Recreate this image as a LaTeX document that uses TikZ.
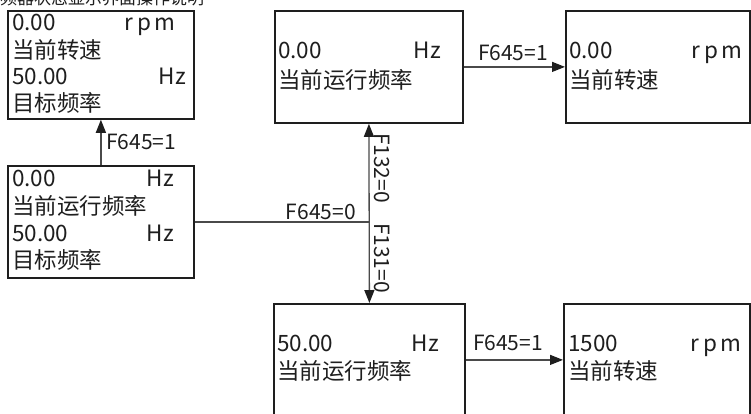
\documentclass[tikz,border=0pt]{standalone}
\usepackage{fontspec}
\setmainfont{Noto Sans CJK SC}
\newfontfamily\cjk{Noto Sans CJK SC}
\usetikzlibrary{arrows.meta}
\definecolor{ink}{HTML}{1E1E1E}
\definecolor{wire}{HTML}{4A4A4A}
\tikzset{
  panel/.style={draw=ink, line width=1.8pt, rectangle, inner sep=0pt, anchor=north west},
  txt/.style={font=\cjk\fontsize{22.5}{22.5}\selectfont, text=ink, inner sep=0pt},
  lt/.style={txt, anchor=mid west, yshift=-3pt},
  rt/.style={txt, anchor=mid east, yshift=-3pt},
  lbl/.style={font=\cjk\fontsize{21}{21}\selectfont, text=ink, inner sep=0pt},
  conn/.style={draw=wire, line width=1.3pt},
  arr/.style={conn, -{Triangle[length=13pt,width=10pt,color=ink]}},
  darr/.style={conn, {Triangle[length=13pt,width=10pt,color=ink]}-{Triangle[length=13pt,width=10pt,color=ink]}}
}
\begin{document}
\begin{tikzpicture}[x=1pt,y=-1pt]
\useasboundingbox (0,0) rectangle (751,413);
\clip (0,0) rectangle (751,413);
% cut-off title
\node[font=\cjk\fontsize{17}{17}\selectfont, text=ink, inner sep=0pt, anchor=base west] (title) at (0,4) {频器状态显示界面操作说明};
% boxes
\node[panel, minimum width=186pt, minimum height=108pt] (A) at (7,10) {};
\node[panel, minimum width=186pt, minimum height=112pt] (B) at (7,165) {};
\node[panel, minimum width=188pt, minimum height=112pt] (C) at (274,10) {};
\node[panel, minimum width=184pt, minimum height=112pt] (D) at (565,10) {};
\node[panel, minimum width=191pt, minimum height=112pt] (E) at (273,303) {};
\node[panel, minimum width=186pt, minimum height=112pt] (F) at (563,303) {};
% box A text
\node[lt] (a1) at (12,24.5) {0.00};
\node[rt] (a2) at (176,24.5) {r\,p\,m};
\node[lt] (a3) at (12,52.5) {当前转速};
\node[lt] (a4) at (12,78.5) {50.00};
\node[rt] (a5) at (186,78.5) {Hz};
\node[lt] (a6) at (12,105.5) {目标频率};
% box B text
\node[lt] (b1) at (12,180.5) {0.00};
\node[rt] (b2) at (174,180.5) {Hz};
\node[lt] (b3) at (12,208.5) {当前运行频率};
\node[lt] (b4) at (12,235.5) {50.00};
\node[rt] (b5) at (174,235.5) {Hz};
\node[lt] (b6) at (12,262.5) {目标频率};
% box C text
\node[lt] (c1) at (278,52.5) {0.00};
\node[rt] (c2) at (441,52.5) {Hz};
\node[lt] (c3) at (278,82.5) {当前运行频率};
% box D text
\node[lt] (d1) at (569,52.5) {0.00};
\node[rt] (d2) at (743,52.5) {r\,p\,m};
\node[lt] (d3) at (569,82.5) {当前转速};
% box E text
\node[lt] (e1) at (277,345.5) {50.00};
\node[rt] (e2) at (439,345.5) {Hz};
\node[lt] (e3) at (277,373.5) {当前运行频率};
% box F text
\node[lt] (f1) at (568,345.5) {1500};
\node[rt] (f2) at (742,345.5) {r\,p\,m};
\node[lt] (f3) at (568,373.5) {当前转速};
% connectors
\coordinate (J) at (B.east -| C.south);
\draw[arr] (B.north) -- (A.south);
\node[lbl, anchor=west] (l1) at (106,142) {F645=1};
\draw[conn] (B.east) -- (J);
\node[lbl, anchor=east] (l2) at (356,212) {F645=0};
\draw[darr] (E.north) -- (C.south);
\node[lbl, rotate=-90] (l3) at (382,168) {F132=0};
\node[lbl, rotate=-90] (l4) at (382,258) {F131=0};
\draw[arr] (C.east) -- (D.west);
\node[lbl] (l5) at (513,53) {F645=1};
\draw[arr] (E.east) -- (F.west);
\node[lbl] (l6) at (508,343) {F645=1};
\end{tikzpicture}
\end{document}
